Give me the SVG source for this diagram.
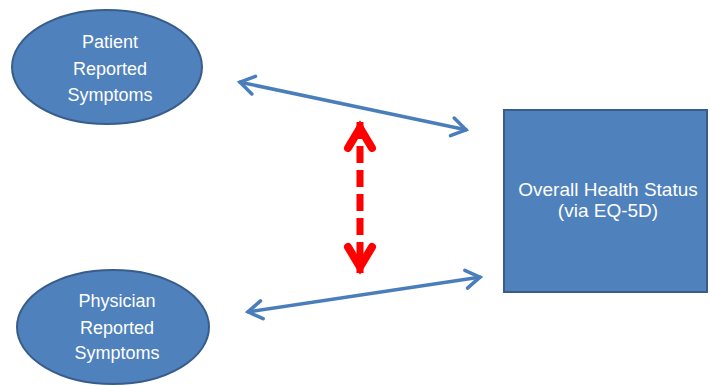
<svg xmlns="http://www.w3.org/2000/svg" width="710" height="386" viewBox="0 0 710 386">
<defs>
<style>
.node{fill:#4F81BD;stroke:#385D8A;stroke-width:2}
.lbl{font-family:"Liberation Sans","Open Sans",sans-serif;font-size:18px;fill:#FFFFFF;text-anchor:middle}
.big{font-size:19px}
.blue{stroke:#4A7EBB;stroke-width:3.5;fill:none}
.red{stroke:#FF0000;stroke-width:7;fill:none;stroke-dasharray:17 7}
</style>
<marker id="ah" markerUnits="userSpaceOnUse" viewBox="-20 -14 24 28" markerWidth="24" markerHeight="28" refX="0" refY="0" orient="auto-start-reverse">
<path d="M-15,-9 L-1,0 L-15,9" fill="none" stroke="#4A7EBB" stroke-width="3.5" stroke-linecap="round" stroke-linejoin="miter"/>
</marker>
<marker id="rh" markerUnits="userSpaceOnUse" viewBox="-36 -22 40 44" markerWidth="40" markerHeight="44" refX="0" refY="0" orient="auto-start-reverse">
<path d="M-26,-12 L-6,0 L-26,12" fill="none" stroke="#FF0000" stroke-width="8" stroke-linecap="round" stroke-linejoin="miter"/>
</marker>
</defs>
<rect width="710" height="386" fill="#FFFFFF"/>
<g id="patient">
<ellipse class="node" cx="107" cy="67" rx="95" ry="57"/>
<text class="lbl" x="110" y="48">Patient</text>
<text class="lbl" x="110" y="75">Reported</text>
<text class="lbl" x="110" y="101">Symptoms</text>
</g>
<g id="physician">
<ellipse class="node" cx="113" cy="327" rx="96" ry="57"/>
<text class="lbl" x="117" y="307">Physician</text>
<text class="lbl" x="117" y="334">Reported</text>
<text class="lbl" x="117" y="359">Symptoms</text>
</g>
<g id="health">
<rect class="node" x="504" y="110" width="203" height="182"/>
<text class="lbl big" x="608" y="196">Overall Health Status</text>
<text class="lbl big" x="608" y="217">(via EQ-5D)</text>
</g>
<g id="connectors">
<line class="blue" x1="239" y1="82" x2="467" y2="130" marker-start="url(#ah)" marker-end="url(#ah)"/>
<line class="blue" x1="247" y1="312" x2="481" y2="277" marker-start="url(#ah)" marker-end="url(#ah)"/>
<line class="red" x1="360" y1="122" x2="360" y2="273" marker-start="url(#rh)" marker-end="url(#rh)"/>
</g>
</svg>
